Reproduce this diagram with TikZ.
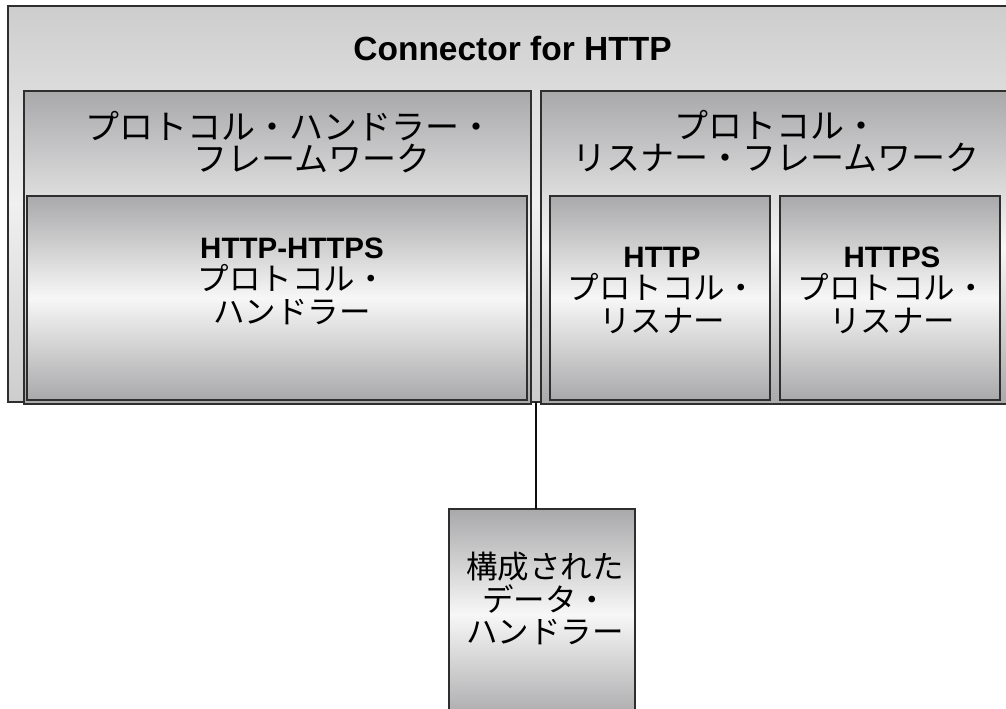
\documentclass[tikz,border=0pt]{standalone}
\usepackage{fontspec}
\setmainfont{Liberation Sans}
\newfontfamily\jp{Noto Sans CJK JP}
\definecolor{outerEdge}{HTML}{CDCDCE}
\definecolor{outerMid}{HTML}{F0F0F0}
\definecolor{boxEdge}{HTML}{A9A9AB}
\definecolor{boxMid}{HTML}{F7F7F7}
\definecolor{lineCol}{HTML}{2E2E2E}
\begin{document}
\begin{tikzpicture}[x=1pt,y=-1pt,
  outerbox/.style={draw=lineCol, line width=1.7pt, top color=outerEdge, bottom color=outerEdge, middle color=outerMid, anchor=north west, inner sep=0pt, outer sep=0pt},
  framebox/.style={draw=lineCol, line width=1.7pt, top color=boxEdge, bottom color=boxEdge, middle color=boxMid, anchor=north west, inner sep=0pt, outer sep=0pt},
  titletext/.style={font=\bfseries\fontsize{33.5}{36}\selectfont, inner sep=0pt},
  jptitle/.style={font={\jp\fontsize{34}{31.5}\selectfont}, align=center, inner sep=0pt},
  jptext/.style={font={\jp\fontsize{31.5}{32.5}\selectfont}, align=center, inner sep=0pt},
  link/.style={draw=black!95, line width=2.2pt}]
\useasboundingbox (0,0) rectangle (1006,709);
\fill[white] (0,0) rectangle (1006,709);
\begin{scope}
\clip (0,0) rectangle (1006,709);
% outer connector box
\node[outerbox, minimum width=1006pt, minimum height=396pt] (conn) at (8,6) {};
% frameworks
\node[framebox, minimum width=507pt, minimum height=313pt] (lfw) at (24,91) {};
\node[framebox, minimum width=470pt, minimum height=313pt] (rfw) at (541,91) {};
% inner boxes
\node[framebox, line width=1.5pt, minimum width=500pt, minimum height=204pt] (hh) at (27,196) {};
\node[framebox, line width=1.5pt, minimum width=220pt, minimum height=204pt] (hl) at (550,196) {};
\node[framebox, line width=1.5pt, minimum width=220pt, minimum height=204pt] (hsl) at (780,196) {};
% data handler
\node[framebox, line width=1.5pt, minimum width=186pt, minimum height=211pt] (dh) at (449,509) {};
% texts
\node[titletext] (connt) at (512.5,49) {Connector for HTTP};
\node[jptitle] (lfwt) at (289,142) {プロトコル・ハンドラー・\\\hspace*{1.35em}フレームワーク};
\node[jptitle] (rfwt) at (776,141) {プロトコル・\\リスナー・フレームワーク};
\node[jptext] (hht) at (292,281) {{\rmfamily\bfseries\fontsize{29.5}{32.5}\selectfont HTTP-HTTPS}\\プロトコル・\\ハンドラー};
\node[jptext] (hlt) at (662,290) {{\rmfamily\bfseries\fontsize{29.5}{32.5}\selectfont HTTP}\\プロトコル・\\リスナー};
\node[jptext] (hslt) at (892,290) {{\rmfamily\bfseries\fontsize{29.5}{32.5}\selectfont HTTPS}\\プロトコル・\\リスナー};
\node[jptext] (dht) at (545,598.5) {構成された\\データ・\\ハンドラー};
% connector
\coordinate (lx) at (536,0);
\draw[link] (lx |- conn.south) -- (lx |- dh.north);
\end{scope}
\end{tikzpicture}
\end{document}
